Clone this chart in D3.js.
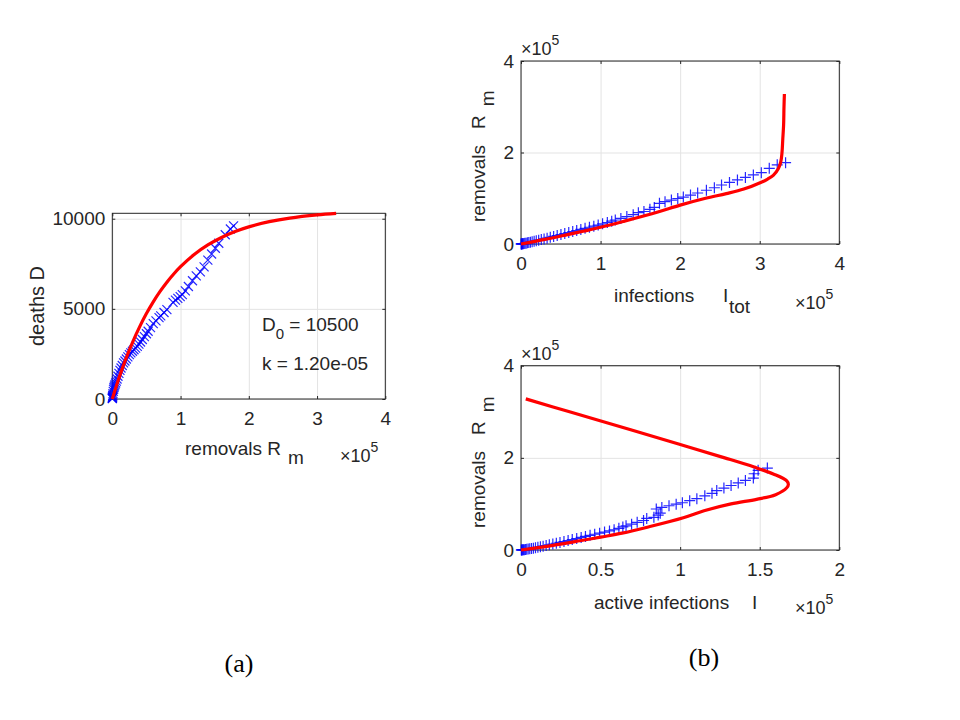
<!DOCTYPE html>
<html>
<head>
<meta charset="utf-8">
<script src="https://cdn.jsdelivr.net/npm/d3@7"></script>
<style>
  body { margin: 0; background: #fff; }
  text { font-family: "Liberation Sans", Arial, sans-serif; fill: #262626; }
  .serif { font-family: "Liberation Serif", "Times New Roman", serif; fill: #000; }
</style>
</head>
<body>
<script>
// ---- data (infections / removals in units of 1e5) ----
const infTot = [0.002, 0.005, 0.009, 0.014, 0.020, 0.028, 0.038, 0.050, 0.064, 0.080,
  0.098, 0.118, 0.140, 0.165, 0.192, 0.222, 0.255, 0.290, 0.328, 0.368,
  0.410, 0.455, 0.502, 0.550, 0.600, 0.650, 0.700, 0.752, 0.805, 0.860,
  0.915, 0.970, 1.025, 1.085, 1.140, 1.185, 1.255, 1.330, 1.410, 1.475,
  1.545, 1.620, 1.675, 1.740, 1.810, 1.890, 1.970, 2.040, 2.130, 2.220,
  2.330, 2.430, 2.520, 2.620, 2.720, 2.820, 2.920, 3.020, 3.120, 3.220, 3.325];
const removals = [0.000, 0.001, 0.002, 0.003, 0.005, 0.007, 0.010, 0.014, 0.019, 0.025,
  0.032, 0.040, 0.049, 0.059, 0.070, 0.083, 0.097, 0.112, 0.128, 0.146,
  0.165, 0.185, 0.206, 0.228, 0.250, 0.272, 0.295, 0.318, 0.342, 0.366,
  0.390, 0.414, 0.440, 0.470, 0.500, 0.525, 0.560, 0.600, 0.640, 0.685,
  0.710, 0.758, 0.800, 0.890, 0.925, 0.960, 0.995, 1.026, 1.070, 1.115,
  1.175, 1.230, 1.290, 1.345, 1.400, 1.455, 1.510, 1.560, 1.655, 1.730, 1.777];
const activeInf = [0.002, 0.004, 0.007, 0.011, 0.015, 0.021, 0.028, 0.036, 0.045, 0.055,
  0.066, 0.078, 0.091, 0.106, 0.122, 0.139, 0.158, 0.178, 0.200, 0.222,
  0.245, 0.270, 0.296, 0.322, 0.350, 0.378, 0.405, 0.434, 0.463, 0.494,
  0.525, 0.556, 0.585, 0.615, 0.640, 0.660, 0.695, 0.730, 0.770, 0.790,
  0.835, 0.862, 0.875, 0.850, 0.885, 0.930, 0.975, 1.014, 1.060, 1.105,
  1.155, 1.200, 1.230, 1.275, 1.320, 1.365, 1.410, 1.460, 1.465, 1.490, 1.548];
const deaths = [20, 40, 70, 100, 150, 210, 300, 420, 540, 640,
  720, 800, 890, 990, 1110, 1260, 1420, 1590, 1720, 1860,
  2000, 2110, 2220, 2340, 2460, 2560, 2650, 2730, 2820, 2920,
  3040, 3160, 3300, 3460, 3620, 3760, 3960, 4180, 4330, 4510,
  4610, 4800, 4960, 5360, 5480, 5580, 5680, 5790, 6000, 6240,
  6560, 6830, 7050, 7330, 7700, 8040, 8360, 8640, 9110, 9430, 9600];

// model curves
const modelRmA = [0, 0.1, 0.2, 0.3, 0.4, 0.5, 0.6, 0.7, 0.8, 0.9, 1.0, 1.2, 1.4, 1.6, 1.8, 2.0, 2.3, 2.6, 3.0, 3.28];
const modelDeaths = [0, 1187, 2241, 3174, 4003, 4738, 5389, 5967, 6480, 6934, 7337, 8013, 8543, 8960, 9289, 9548, 9835, 10036, 10213, 10295];
const modelRm = [0, 0.1, 0.2, 0.28, 0.365, 0.5, 0.7, 0.85, 1.0, 1.1, 1.2, 1.35, 1.42, 1.5, 1.65, 1.8, 2.0, 2.3, 2.6, 3.0, 3.28];
const modelInfTot = [0, 0.30, 0.57, 0.78, 1.0, 1.30, 1.72, 2.0, 2.32, 2.58, 2.80, 3.02, 3.10, 3.17, 3.235, 3.265, 3.28, 3.29, 3.30, 3.305, 3.31];
const modelActive = [0, 0.20, 0.37, 0.50, 0.635, 0.80, 1.02, 1.15, 1.32, 1.48, 1.60, 1.67, 1.68, 1.67, 1.585, 1.465, 1.28, 0.99, 0.70, 0.305, 0.03];

// tick values
const ticksA_x = [0, 1, 2, 3, 4];
const ticksA_y = [0, 5000, 10000];
const ticksB_x = [0, 1, 2, 3, 4];
const ticksB2_x = [0, 0.5, 1, 1.5, 2];
const ticksB_y = [0, 2, 4];

const W = 960, H = 720;
const FS = 19; // tick and label font size

const svg = d3.select("body").append("svg")
  .attr("width", W).attr("height", H)
  .attr("viewBox", [0, 0, W, H]);

function zip(xs, ys) { return xs.map((v, i) => [v, ys[i]]); }

const plusPath = "M-5.5,0H5.5M0,-5.5V5.5";
const crossPath = "M-4.5,-4.5L4.5,4.5M-4.5,4.5L4.5,-4.5";

function makePanel(o) {
  const x = d3.scaleLinear().domain(o.xDomain).range([o.left, o.right]);
  const y = d3.scaleLinear().domain(o.yDomain).range([o.bottom, o.top]);
  const w = o.right - o.left, h = o.bottom - o.top;
  const g = svg.append("g");

  // grid
  g.append("g").attr("transform", `translate(0,${o.bottom})`)
    .call(d3.axisBottom(x).tickValues(o.xTicks).tickSize(-h).tickFormat(""))
    .call(s => s.select(".domain").remove())
    .call(s => s.selectAll("line").attr("stroke", "#e3e3e3"));
  g.append("g").attr("transform", `translate(${o.left},0)`)
    .call(d3.axisLeft(y).tickValues(o.yTicks).tickSize(-w).tickFormat(""))
    .call(s => s.select(".domain").remove())
    .call(s => s.selectAll("line").attr("stroke", "#e3e3e3"));

  // box
  g.append("rect")
    .attr("x", o.left).attr("y", o.top).attr("width", w).attr("height", h)
    .attr("fill", "none").attr("stroke", "#262626").attr("stroke-width", 1);

  // inward ticks on all sides + labels
  const tickFmt = d => String(d);
  g.append("g").attr("transform", `translate(0,${o.bottom})`)
    .call(d3.axisBottom(x).tickValues(o.xTicks).tickSizeInner(-3).tickSizeOuter(0).tickPadding(13).tickFormat(tickFmt))
    .call(s => s.select(".domain").remove())
    .call(s => s.selectAll("line").attr("stroke", "#262626"))
    .call(s => s.selectAll("text").attr("font-size", FS).attr("fill", "#262626")
      .attr("font-family", "Liberation Sans, Arial, sans-serif"));
  g.append("g").attr("transform", `translate(0,${o.top})`)
    .call(d3.axisTop(x).tickValues(o.xTicks).tickSizeInner(-3).tickSizeOuter(0).tickFormat(""))
    .call(s => s.select(".domain").remove())
    .call(s => s.selectAll("line").attr("stroke", "#262626"));
  g.append("g").attr("transform", `translate(${o.left},0)`)
    .call(d3.axisLeft(y).tickValues(o.yTicks).tickSizeInner(-3).tickSizeOuter(0).tickPadding(7).tickFormat(tickFmt))
    .call(s => s.select(".domain").remove())
    .call(s => s.selectAll("line").attr("stroke", "#262626"))
    .call(s => s.selectAll("text").attr("font-size", FS).attr("fill", "#262626")
      .attr("font-family", "Liberation Sans, Arial, sans-serif"));
  g.append("g").attr("transform", `translate(${o.right},0)`)
    .call(d3.axisRight(y).tickValues(o.yTicks).tickSizeInner(-3).tickSizeOuter(0).tickFormat(""))
    .call(s => s.select(".domain").remove())
    .call(s => s.selectAll("line").attr("stroke", "#262626"));

  // data markers
  g.append("g").selectAll("path")
    .data(o.points)
    .join("path")
    .attr("d", o.marker)
    .attr("transform", d => `translate(${x(d[0])},${y(d[1])})`)
    .attr("fill", "none")
    .attr("stroke", "#0000ff")
    .attr("stroke-opacity", 0.85)
    .attr("stroke-width", 1.2);

  // model curve
  g.append("path")
    .datum(o.model)
    .attr("d", d3.line().x(d => x(d[0])).y(d => y(d[1])).curve(d3.curveCatmullRom.alpha(0.5)))
    .attr("fill", "none")
    .attr("stroke", "#ff0000")
    .attr("stroke-width", 3.2)
    .attr("stroke-linejoin", "round");

  return { x, y, g };
}

// exponent label helper "×10^5"
function exponent(xp, yp) {
  const t = svg.append("text").attr("x", xp).attr("y", yp).attr("font-size", 18);
  t.append("tspan").text("\u00d710");
  t.append("tspan").attr("dy", -10).attr("font-size", 14).text("5");
}

// ---------- panel (a) ----------
makePanel({
  left: 112.3, right: 385.3, top: 213.3, bottom: 399,
  xDomain: [0, 4], yDomain: [0, 10300],
  xTicks: ticksA_x, yTicks: ticksA_y,
  points: zip(removals, deaths), marker: crossPath,
  model: zip(modelRmA, modelDeaths)
});
svg.append("text")
  .attr("transform", "translate(44,306) rotate(-90)")
  .attr("text-anchor", "middle").attr("font-size", 20)
  .text("deaths D");
{
  const t = svg.append("text").attr("x", 185).attr("y", 455).attr("font-size", FS);
  t.append("tspan").text("removals R");
  t.append("tspan").attr("dx", 7).attr("dy", 9).text("m");
}
exponent(340, 462);
{
  const t = svg.append("text").attr("x", 262).attr("y", 331).attr("font-size", FS);
  t.append("tspan").text("D");
  t.append("tspan").attr("dy", 8).attr("font-size", 15).text("0");
  t.append("tspan").attr("dy", -8).text(" = 10500");
}
svg.append("text").attr("x", 262).attr("y", 370).attr("font-size", FS).text("k = 1.20e-05");

// ---------- panel (b) top ----------
makePanel({
  left: 521, right: 839.3, top: 61, bottom: 244,
  xDomain: [0, 4], yDomain: [0, 4],
  xTicks: ticksB_x, yTicks: ticksB_y,
  points: zip(infTot, removals), marker: plusPath,
  model: zip(modelInfTot, modelRm)
});
exponent(521, 55);
{
  const t = svg.append("text").attr("transform", "translate(485,222) rotate(-90)").attr("font-size", FS);
  t.append("tspan").text("removals\u00a0\u00a0\u00a0R");
  t.append("tspan").attr("dx", 9).attr("dy", 9).text("m");
}
{
  const t = svg.append("text").attr("x", 614).attr("y", 302).attr("font-size", FS);
  t.append("tspan").text("infections");
  t.append("tspan").attr("x", 723).text("I");
  t.append("tspan").attr("x", 729).attr("dy", 11).text("tot");
}
exponent(795, 309);

// ---------- panel (b) bottom ----------
makePanel({
  left: 521, right: 839.3, top: 365.7, bottom: 550,
  xDomain: [0, 2], yDomain: [0, 4],
  xTicks: ticksB2_x, yTicks: ticksB_y,
  points: zip(activeInf, removals), marker: plusPath,
  model: zip(modelActive, modelRm)
});
exponent(521, 360);
{
  const t = svg.append("text").attr("transform", "translate(485,528) rotate(-90)").attr("font-size", FS);
  t.append("tspan").text("removals\u00a0\u00a0\u00a0R");
  t.append("tspan").attr("dx", 9).attr("dy", 9).text("m");
}
{
  const t = svg.append("text").attr("x", 594).attr("y", 609).attr("font-size", FS);
  t.append("tspan").text("active infections");
  t.append("tspan").attr("x", 752).text("I");
}
exponent(795, 614);

// ---------- sub-figure captions ----------
svg.append("text").attr("class", "serif").attr("x", 239).attr("y", 672)
  .attr("text-anchor", "middle").attr("font-size", 26).text("(a)");
svg.append("text").attr("class", "serif").attr("x", 704).attr("y", 666)
  .attr("text-anchor", "middle").attr("font-size", 26).text("(b)");
</script>
</body>
</html>
